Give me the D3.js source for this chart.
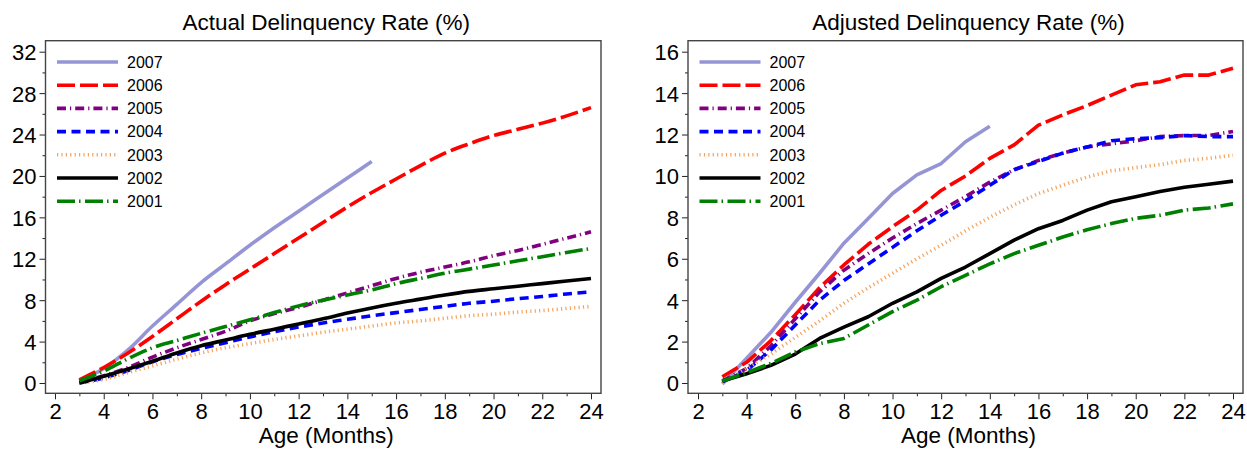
<!DOCTYPE html>
<html>
<head>
<meta charset="utf-8">
<script src="https://cdn.jsdelivr.net/npm/d3@7/dist/d3.min.js"></script>
<style>
  html, body { margin: 0; padding: 0; background: #fff; }
  svg { display: block; }
  text { font-family: "Liberation Sans", Arial, sans-serif; fill: #000; }
</style>
</head>
<body>
<svg id="chart" width="1247" height="449"></svg>
<script>
// ---------- data ----------
const months = [3,4,5,6,7,8,9,10,11,12,13,14,15,16,17,18,19,20,21,22,23,24];
const seriesNames = ["2007","2006","2005","2004","2003","2002","2001"];

const xTicks = [2,4,6,8,10,12,14,16,18,20,22,24];
const xMinorTicks = [3,5,7,9,11,13,15,17,19,21,23];
const yTicksActual = [0,4,8,12,16,20,24,28,32];
const yMinorActual = [2,6,10,14,18,22,26,30];
const yTicksAdjusted = [0,2,4,6,8,10,12,14,16];
const yMinorAdjusted = [1,3,5,7,9,11,13,15];

// Actual delinquency rate (%) by age in months (from month 3)
const actual2007 = [0.2,1.4,3.2,5.5,7.6,9.7,11.5,13.3,15.0,16.6,18.2,19.8,21.4];
const actual2006 = [0.3,1.5,2.9,4.5,6.2,7.9,9.5,11.0,12.5,14.0,15.5,17.0,18.4,19.7,21.0,22.2,23.1,23.9,24.5,25.1,25.8,26.6];
const actual2005 = [0.1,0.7,1.5,2.5,3.4,4.2,5.0,6.0,6.7,7.3,8.0,8.7,9.4,10.1,10.7,11.2,11.7,12.3,12.8,13.4,14.0,14.6];
const actual2004 = [0.0,0.5,1.2,2.05,2.75,3.35,3.9,4.45,4.95,5.4,5.8,6.15,6.5,6.8,7.1,7.4,7.7,7.9,8.15,8.35,8.6,8.8];
const actual2003 = [0.0,0.35,1.0,1.65,2.3,2.9,3.4,3.8,4.2,4.55,4.9,5.2,5.5,5.8,6.0,6.25,6.5,6.65,6.85,7.0,7.2,7.4];
const actual2002 = [0.0,0.65,1.35,2.1,2.9,3.6,4.15,4.7,5.2,5.7,6.2,6.75,7.25,7.7,8.1,8.5,8.85,9.1,9.35,9.6,9.85,10.1];
const actual2001 = [0.2,1.15,2.35,3.4,4.1,4.8,5.45,6.1,6.8,7.45,8.0,8.5,9.0,9.6,10.1,10.6,11.0,11.4,11.8,12.2,12.6,13.0];

// Adjusted delinquency rate (%)
const adjusted2007 = [-0.05,1.2,2.45,3.9,5.3,6.75,7.95,9.15,10.05,10.6,11.65,12.4];
const adjusted2006 = [0.3,1.0,2.05,3.3,4.6,5.7,6.7,7.55,8.35,9.3,10.0,10.85,11.5,12.45,12.95,13.4,13.9,14.4,14.55,14.87,14.87,15.2];
const adjusted2005 = [0.1,0.7,1.8,3.1,4.4,5.45,6.25,7.0,7.7,8.35,9.0,9.7,10.3,10.75,11.1,11.4,11.55,11.7,11.9,11.95,11.95,12.15];
const adjusted2004 = [0.05,0.6,1.6,2.8,4.0,4.95,5.75,6.55,7.35,8.1,8.8,9.55,10.3,10.7,11.1,11.4,11.7,11.8,11.85,11.95,11.9,11.9];
const adjusted2003 = [0.0,0.7,1.4,2.2,3.0,3.85,4.6,5.3,6.0,6.65,7.35,8.0,8.6,9.15,9.55,9.95,10.25,10.4,10.55,10.75,10.85,11.0];
const adjusted2002 = [0.1,0.45,0.85,1.4,2.15,2.7,3.2,3.85,4.4,5.05,5.6,6.25,6.9,7.45,7.85,8.35,8.75,9.0,9.25,9.45,9.6,9.75];
const adjusted2001 = [0.1,0.5,0.95,1.5,1.9,2.15,2.8,3.45,4.0,4.65,5.2,5.75,6.25,6.65,7.05,7.4,7.7,7.95,8.1,8.35,8.45,8.65];

// ---------- styles ----------
const styles = {
  "2007": { color: "#9595D6", dash: null },
  "2006": { color: "#FF0000", dash: "18,5" },
  "2005": { color: "#800080", dash: "9,4,1.2,4" },
  "2004": { color: "#0000FF", dash: "9,5.5" },
  "2003": { color: "#F4A460", dash: "1.2,3.2" },
  "2002": { color: "#000000", dash: null },
  "2001": { color: "#008000", dash: "18,4,1.5,4.5" }
};

const svg = d3.select("#chart");

function drawPanel(cfg) {
  const g = svg.append("g");
  const x = d3.scaleLinear().domain([2, 24]).range([cfg.x2, cfg.x24]);
  const y = d3.scaleLinear().domain([0, cfg.yMax]).range([383, 51.7]);
  const fL = cfg.frameLeft, fR = cfg.frameRight, fT = 40.7, fB = 393.3;

  // title
  g.append("text")
    .attr("x", (fL + fR) / 2 + 3).attr("y", 30)
    .attr("text-anchor", "middle")
    .style("font-size", "22.5px")
    .text(cfg.title);

  // y axis (major + minor)
  const yAxis = d3.axisLeft(y).tickValues(cfg.yTicks).tickSize(6).tickPadding(3).tickFormat(d3.format("d"));
  const ya = g.append("g").attr("transform", `translate(${fL},0)`).call(yAxis);
  ya.select(".domain").remove();
  ya.selectAll("text").style("font-size", "22px").attr("dy", "0.36em");
  const yMin = d3.axisLeft(y).tickValues(cfg.yMinor).tickSize(3).tickFormat("");
  const ym = g.append("g").attr("transform", `translate(${fL},0)`).call(yMin);
  ym.select(".domain").remove();

  // x axis
  const xAxis = d3.axisBottom(x).tickValues(xTicks).tickSize(6).tickPadding(4).tickFormat(d3.format("d"));
  const xa = g.append("g").attr("transform", `translate(0,${fB})`).call(xAxis);
  xa.select(".domain").remove();
  xa.selectAll("text").style("font-size", "22px");
  const xMin = d3.axisBottom(x).tickValues(xMinorTicks).tickSize(3).tickFormat("");
  const xm = g.append("g").attr("transform", `translate(0,${fB})`).call(xMin);
  xm.select(".domain").remove();

  g.selectAll(".tick line").attr("stroke", "#222");

  // x axis title
  g.append("text")
    .attr("x", (fL + fR) / 2 + 3).attr("y", 443)
    .attr("text-anchor", "middle")
    .style("font-size", "22.5px")
    .text("Age (Months)");

  // lines
  const line = d3.line()
    .curve(cfg.curve)
    .x((d, i) => x(months[i]))
    .y(d => y(d));

  seriesNames.forEach(name => {
    const st = styles[name];
    g.append("path")
      .datum(cfg.data[name])
      .attr("fill", "none")
      .attr("stroke", st.color)
      .attr("stroke-width", 3.6)
      .attr("stroke-dasharray", st.dash)
      .attr("stroke-linejoin", "round")
      .attr("d", line);
  });

  // frame
  g.append("rect")
    .attr("x", fL).attr("y", fT)
    .attr("width", fR - fL).attr("height", fB - fT)
    .attr("fill", "none").attr("stroke", "#444").attr("stroke-width", 1.4);

  // legend
  const lg = g.append("g");
  seriesNames.forEach((name, i) => {
    const st = styles[name];
    const ly = 62 + i * 23.2;
    lg.append("line")
      .attr("x1", fL + 11.5).attr("x2", fL + 72.5)
      .attr("y1", ly).attr("y2", ly)
      .attr("stroke", st.color)
      .attr("stroke-width", 3.6)
      .attr("stroke-dasharray", st.dash);
    lg.append("text")
      .attr("x", fL + 81.5).attr("y", ly)
      .attr("dy", "0.36em")
      .style("font-size", "16px")
      .text(name);
  });
}

drawPanel({
  title: "Actual Delinquency Rate (%)",
  frameLeft: 45.5, frameRight: 601,
  x2: 55, x24: 591,
  yMax: 32, yTicks: yTicksActual, yMinor: yMinorActual,
  curve: d3.curveMonotoneX,
  data: { "2007": actual2007, "2006": actual2006, "2005": actual2005, "2004": actual2004,
          "2003": actual2003, "2002": actual2002, "2001": actual2001 }
});

drawPanel({
  title: "Adjusted Delinquency Rate (%)",
  frameLeft: 688, frameRight: 1243,
  x2: 698, x24: 1233,
  yMax: 16, yTicks: yTicksAdjusted, yMinor: yMinorAdjusted,
  curve: d3.curveLinear,
  data: { "2007": adjusted2007, "2006": adjusted2006, "2005": adjusted2005, "2004": adjusted2004,
          "2003": adjusted2003, "2002": adjusted2002, "2001": adjusted2001 }
});
</script>
</body>
</html>
